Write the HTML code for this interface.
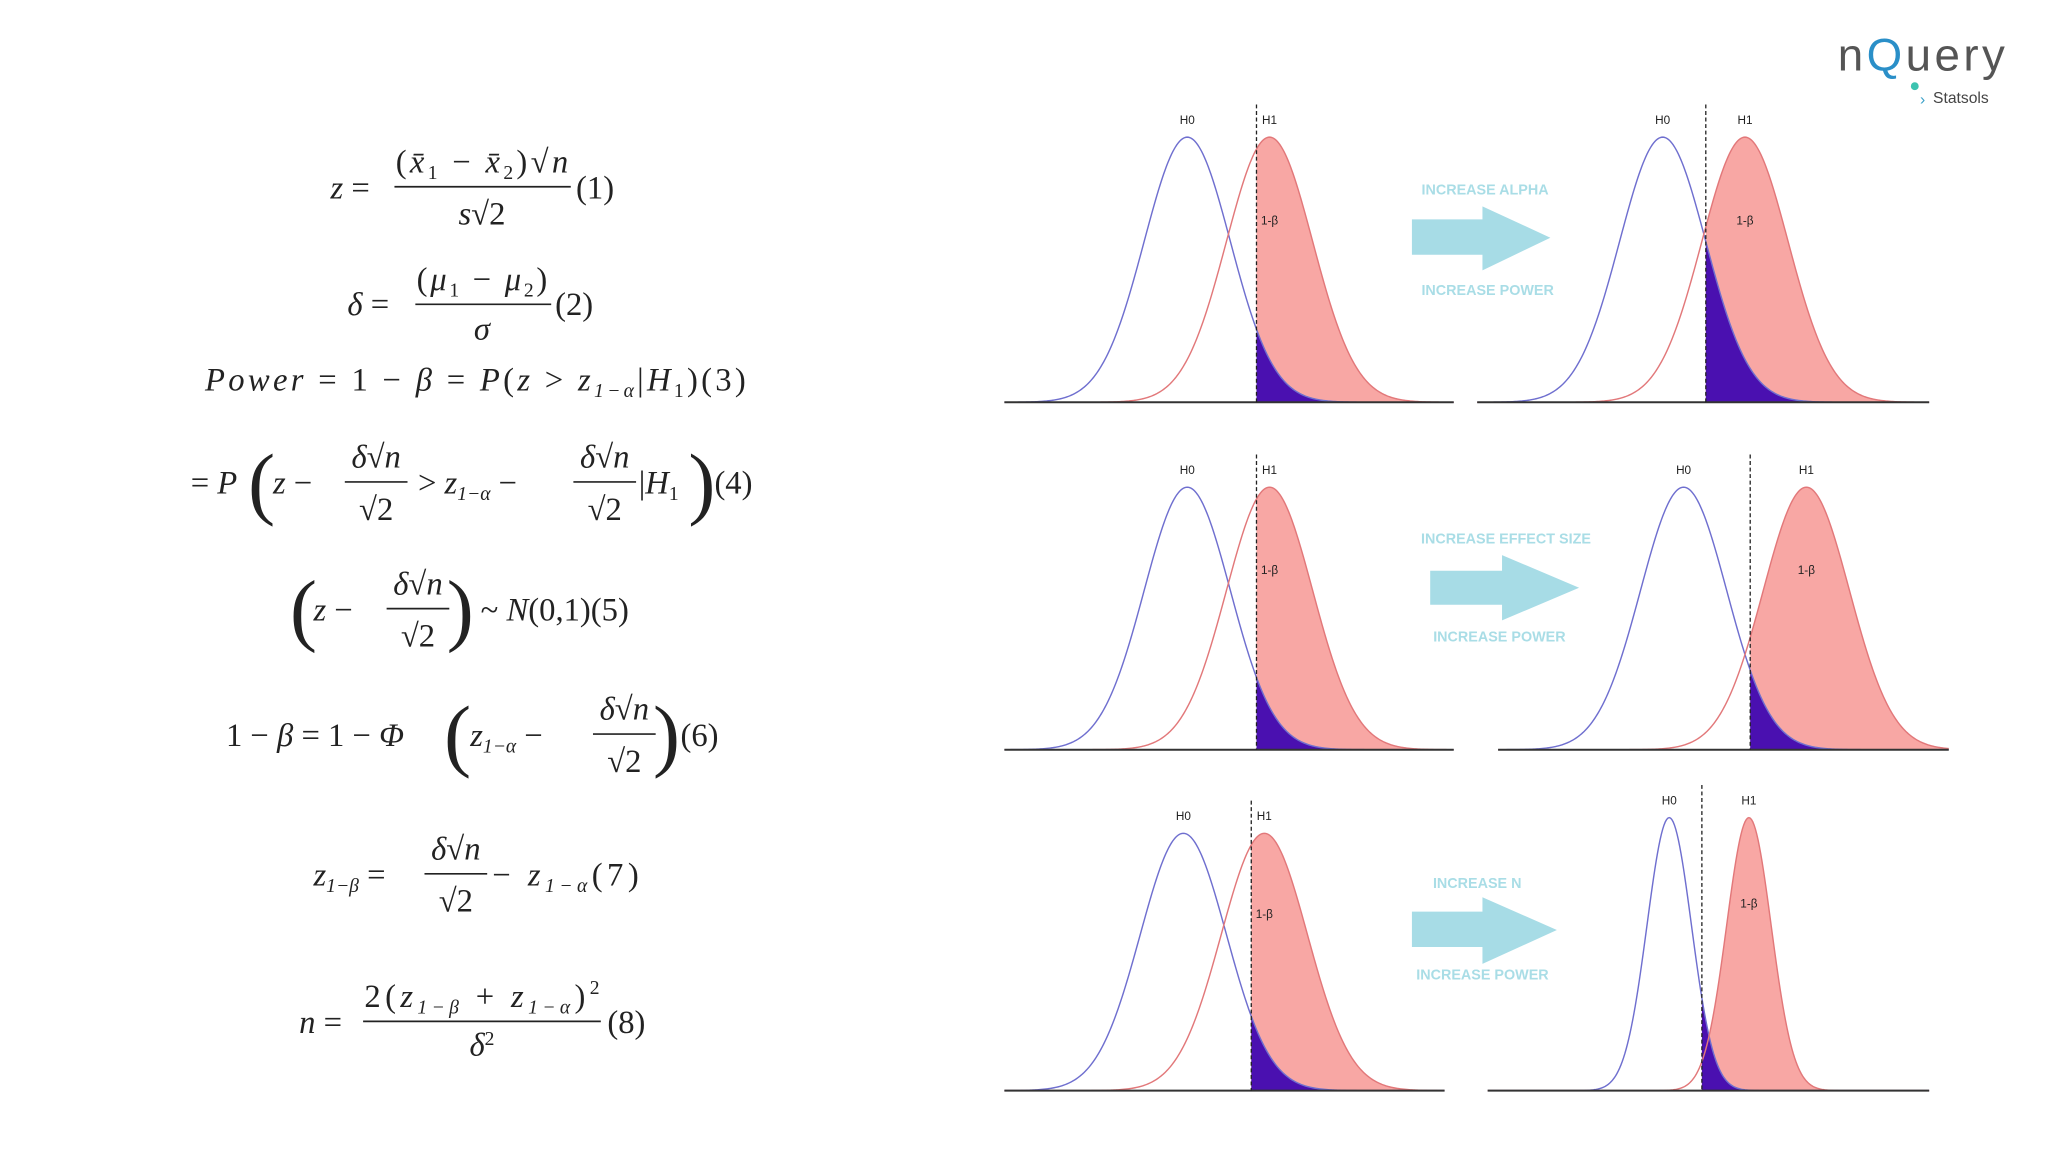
<!DOCTYPE html>
<html><head><meta charset="utf-8">
<style>
html,body{margin:0;padding:0;background:#fff;}
svg{display:block;}
.eq{font-family:"Liberation Serif",serif;font-style:italic;font-size:25px;fill:#222;}
.up{font-style:normal;}
.big{font-size:62px;font-style:normal;font-weight:100;}
.lbl{font-family:"Liberation Sans",sans-serif;font-size:9px;fill:#222;}
.arr{font-family:"Liberation Sans",sans-serif;font-size:11px;fill:#a9dde6;font-weight:bold;}
</style></head>
<body>
<svg id="main" width="2048" height="1152" viewBox="0 0 1568 882" xmlns="http://www.w3.org/2000/svg">
  <g>
    <g>
      <text class="eq" x="253" y="152">z <tspan class="up">=</tspan></text>
      <text class="eq" x="369" y="132" text-anchor="middle" textLength="132"><tspan class="up">(</tspan>x̄<tspan font-size="15" dy="5" class="up">1</tspan><tspan dy="-5" class="up"> − </tspan>x̄<tspan font-size="15" dy="5" class="up">2</tspan><tspan dy="-5" class="up">)√</tspan>n</text>
      <line x1="302" y1="143" x2="437" y2="143" stroke="#222" stroke-width="1.3"/>
      <text class="eq" x="369" y="172" text-anchor="middle">s<tspan class="up">√2</tspan></text>
      <text class="eq up" x="441" y="152">(1)</text>
    </g>
    <g>
      <text class="eq" x="266" y="241">δ <tspan class="up">=</tspan></text>
      <text class="eq" x="369" y="222" text-anchor="middle" textLength="100"><tspan class="up">(</tspan>μ<tspan font-size="15" dy="5" class="up">1</tspan><tspan dy="-5" class="up"> − </tspan>μ<tspan font-size="15" dy="5" class="up">2</tspan><tspan dy="-5" class="up">)</tspan></text>
      <line x1="318" y1="233" x2="422" y2="233" stroke="#222" stroke-width="1.3"/>
      <text class="eq" x="369" y="260" text-anchor="middle">σ</text>
      <text class="eq up" x="425" y="241">(2)</text>
    </g>
    <text class="eq" x="157" y="299" textLength="414">Power <tspan class="up">= 1 − </tspan>β <tspan class="up">= </tspan>P<tspan class="up">(</tspan>z <tspan class="up">&gt; </tspan>z<tspan font-size="15" dy="5">1−α</tspan><tspan dy="-5" class="up">|</tspan>H<tspan font-size="15" dy="5" class="up">1</tspan><tspan dy="-5" class="up">)(3)</tspan></text>
    <g>
      <text class="eq" x="146" y="378"><tspan class="up">= </tspan>P</text>
      <text class="eq big" x="190" y="390">(</text>
      <text class="eq" x="209" y="378">z <tspan class="up">−</tspan></text>
      <text class="eq" x="288" y="358" text-anchor="middle">δ<tspan class="up">√</tspan>n</text>
      <line x1="264" y1="369" x2="312" y2="369" stroke="#222" stroke-width="1.3"/>
      <text class="eq up" x="288" y="398" text-anchor="middle">√2</text>
      <text class="eq" x="320" y="378"><tspan class="up">&gt; </tspan>z<tspan font-size="15" dy="5">1−α</tspan><tspan dy="-5" class="up">  − </tspan></text>
      <text class="eq" x="463" y="358" text-anchor="middle">δ<tspan class="up">√</tspan>n</text>
      <line x1="439" y1="369" x2="487" y2="369" stroke="#222" stroke-width="1.3"/>
      <text class="eq up" x="463" y="398" text-anchor="middle">√2</text>
      <text class="eq" x="489" y="378"><tspan class="up">|</tspan>H<tspan font-size="15" dy="5" class="up">1</tspan></text>
      <text class="eq big" x="527" y="390">)</text>
      <text class="eq up" x="547" y="378">(4)</text>
    </g>
    <g>
      <text class="eq big" x="222" y="487">(</text>
      <text class="eq" x="240" y="475">z <tspan class="up">−</tspan></text>
      <text class="eq" x="320" y="455" text-anchor="middle">δ<tspan class="up">√</tspan>n</text>
      <line x1="296" y1="466" x2="344" y2="466" stroke="#222" stroke-width="1.3"/>
      <text class="eq up" x="320" y="495" text-anchor="middle">√2</text>
      <text class="eq big" x="342" y="487">)</text>
      <text class="eq" x="368" y="475"><tspan class="up">~ </tspan>N<tspan class="up">(0,1)(5)</tspan></text>
    </g>
    <g>
      <text class="eq" x="173" y="571"><tspan class="up">1 − </tspan>β <tspan class="up">= 1 − </tspan>Φ</text>
      <text class="eq big" x="340" y="583">(</text>
      <text class="eq" x="360" y="571">z<tspan font-size="15" dy="5">1−α</tspan><tspan dy="-5" class="up">  −</tspan></text>
      <text class="eq" x="478" y="551" text-anchor="middle">δ<tspan class="up">√</tspan>n</text>
      <line x1="454" y1="562" x2="502" y2="562" stroke="#222" stroke-width="1.3"/>
      <text class="eq up" x="478" y="591" text-anchor="middle">√2</text>
      <text class="eq big" x="500" y="583">)</text>
      <text class="eq up" x="521" y="571">(6)</text>
    </g>
    <g>
      <text class="eq" x="240" y="678">z<tspan font-size="15" dy="5">1−β</tspan><tspan dy="-5" class="up"> =</tspan></text>
      <text class="eq" x="349" y="658" text-anchor="middle">δ<tspan class="up">√</tspan>n</text>
      <line x1="325" y1="669" x2="373" y2="669" stroke="#222" stroke-width="1.3"/>
      <text class="eq up" x="349" y="698" text-anchor="middle">√2</text>
      <text class="eq" x="377" y="678" textLength="112"><tspan class="up">− </tspan>z<tspan font-size="15" dy="5">1−α</tspan><tspan dy="-5" class="up">(7)</tspan></text>
    </g>
    <g>
      <text class="eq" x="229" y="791">n <tspan class="up">=</tspan></text>
      <text class="eq" x="369" y="771" text-anchor="middle" textLength="180"><tspan class="up">2(</tspan>z<tspan font-size="15" dy="5">1−β</tspan><tspan dy="-5" class="up"> + </tspan>z<tspan font-size="15" dy="5">1−α</tspan><tspan dy="-5" class="up">)</tspan><tspan font-size="15" dy="-10" class="up">2</tspan></text>
      <line x1="278" y1="782" x2="460" y2="782" stroke="#222" stroke-width="1.3"/>
      <text class="eq" x="369" y="808" text-anchor="middle">δ<tspan font-size="15" dy="-8" class="up">2</tspan></text>
      <text class="eq up" x="465" y="791">(8)</text>
    </g>
  </g>

  <g id="panels"></g>

  <g>
    <g>
      <polygon points="1081,168 1135,168 1135,158 1187,182 1135,207 1135,195 1081,195" fill="#a7dce6"/>
      <text class="arr" x="1137" y="149" text-anchor="middle">INCREASE ALPHA</text>
      <text class="arr" x="1139" y="226" text-anchor="middle">INCREASE POWER</text>
    </g>
    <g>
      <polygon points="1095,437 1150,437 1150,425 1209,450 1150,475 1150,463 1095,463" fill="#a7dce6"/>
      <text class="arr" x="1153" y="416" text-anchor="middle">INCREASE EFFECT SIZE</text>
      <text class="arr" x="1148" y="491" text-anchor="middle">INCREASE POWER</text>
    </g>
    <g>
      <polygon points="1081,698 1135,698 1135,687 1192,712 1135,738 1135,725 1081,725" fill="#a7dce6"/>
      <text class="arr" x="1131" y="680" text-anchor="middle">INCREASE N</text>
      <text class="arr" x="1135" y="750" text-anchor="middle">INCREASE POWER</text>
    </g>
  </g>

  <g>
    <text x="1407" y="54" font-family="Liberation Sans,sans-serif" font-size="35" fill="#555" textLength="128">n<tspan fill="#2a8fc8">Q</tspan>uery</text>
    <circle cx="1466" cy="66" r="3" fill="#3cc3b0"/>
    <text x="1480" y="79" font-family="Liberation Sans,sans-serif" font-size="12" fill="#444">Statsols</text>
    <text x="1470" y="80" font-family="Liberation Sans,sans-serif" font-size="12" fill="#3aa0c8">›</text>
  </g>
</svg>
<script>
const panelNames = ['alpha-before','alpha-after','effect-before','effect-after','n-before','n-after'];
const axisStart = [769, 1131, 769, 1147, 769, 1139];
const axisEnd = [1113, 1477, 1113, 1492, 1106, 1477];
const baseY = [308, 308, 574, 574, 835, 835];
const peakY = [105, 105, 373, 373, 638, 626];
const h0Mean = [909, 1273, 909, 1289, 906, 1278];
const h1Mean = [972, 1336, 972, 1383, 968, 1339];
const sdVals = [33, 33, 33, 33, 33, 17];
const critVals = [962, 1306, 962, 1340, 958, 1303];

const NS = 'http://www.w3.org/2000/svg';
const root = document.getElementById('panels');
function mk(tag, attrs, parent){const e=document.createElementNS(NS,tag);for(const k in attrs)e.setAttribute(k,attrs[k]);parent.appendChild(e);return e;}
function gy(i, mu, x){const z=(x-mu)/sdVals[i];return baseY[i]-(baseY[i]-peakY[i])*Math.exp(-0.5*z*z);}
for (let i=0;i<panelNames.length;i++){
  const g = mk('g',{},root);
  
  
  const x0=axisStart[i], x1=axisEnd[i], c=critVals[i];
  let d='M'+c+','+baseY[i];
  for(let x=c;x<=x1;x+=1) d+=' L'+x+','+gy(i,h1Mean[i],x).toFixed(2);
  d+=' L'+x1+','+baseY[i]+' Z';
  const pf=mk('path',{d:d,fill:'#f8a7a4'},g);
  
  
  d='M'+c+','+baseY[i];
  for(let x=c;x<=x1;x+=1) d+=' L'+x+','+gy(i,h0Mean[i],x).toFixed(2);
  d+=' L'+x1+','+baseY[i]+' Z';
  const af=mk('path',{d:d,fill:'#4a10b0'},g);
  
  
  const curves=[[h0Mean[i],'#6f6fcf','h0-curve'],[h1Mean[i],'#e2787a','h1-curve']];
  for(const [mu,col,nm] of curves){
    let p='';
    for(let x=x0;x<=x1;x+=1) p+=(p?' L':'M')+x+','+gy(i,mu,x).toFixed(2);
    const pe=mk('path',{d:p,fill:'none',stroke:col,'stroke-width':1.1},g);
    
    
  }
  const ax=mk('line',{x1:x0,x2:x1,y1:baseY[i],y2:baseY[i],stroke:'#333','stroke-width':1.5},g);
  
  
  const cl=mk('line',{x1:c,x2:c,y1:peakY[i]-25,y2:baseY[i],stroke:'#222','stroke-width':1,'stroke-dasharray':'3,2'},g);
  
  
  const t0=mk('text',{x:h0Mean[i],y:peakY[i]-10,'text-anchor':'middle',class:'lbl'},g); t0.textContent='H0';
  
  
  const t1=mk('text',{x:h1Mean[i],y:peakY[i]-10,'text-anchor':'middle',class:'lbl'},g); t1.textContent='H1';
  
  
  const tb=mk('text',{x:Math.max(h1Mean[i],c+10),y:peakY[i]+(baseY[i]-peakY[i])*0.33,'text-anchor':'middle',class:'lbl'},g); tb.textContent='1-β';
  
  
}
</script>
</body></html>
